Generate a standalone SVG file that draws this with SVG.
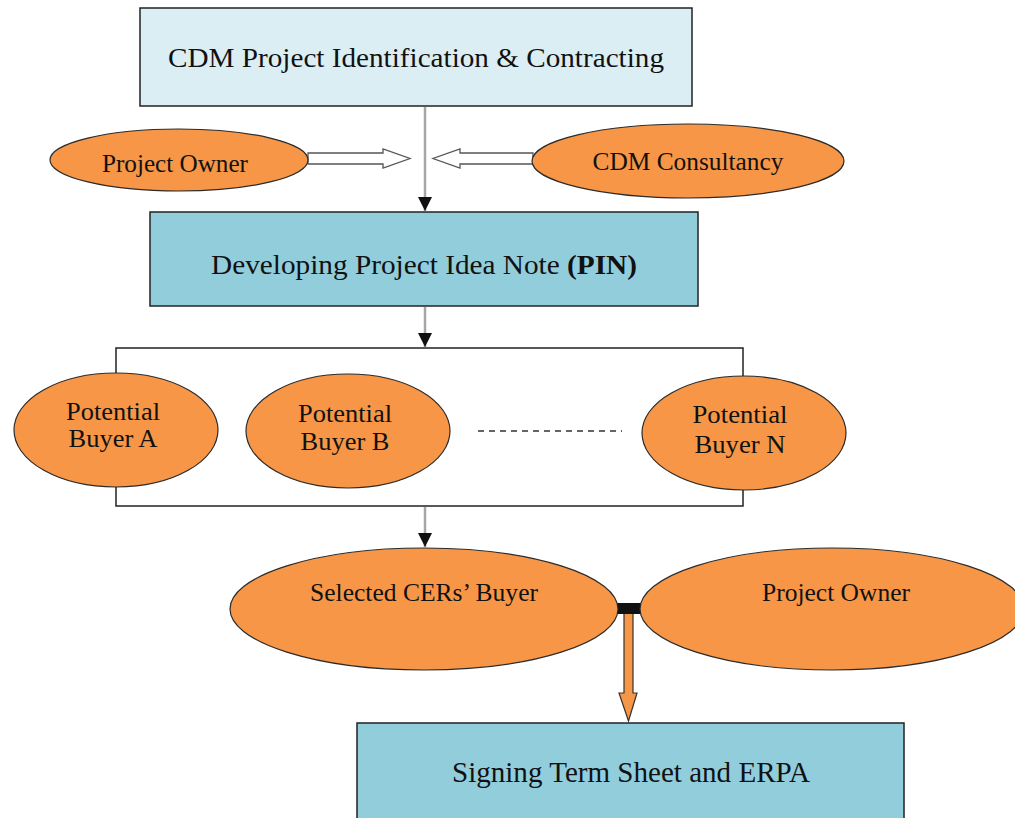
<svg xmlns="http://www.w3.org/2000/svg" width="1015" height="818" viewBox="0 0 1015 818">
<defs>
<style>
.txt{font-family:"Liberation Serif","Times New Roman",serif;fill:#111;text-anchor:middle}
.ell{fill:#f79646;stroke:#2b2b2b;stroke-width:1.2}
.box{stroke:#222;stroke-width:1.5}
.conn{stroke:#a6a6a6;stroke-width:2.5;fill:none}
.hollow{fill:#fff;stroke:#555;stroke-width:1.3}
</style>
<marker id="ah" viewBox="0 0 10 10" refX="10" refY="5" markerWidth="14" markerHeight="14" markerUnits="userSpaceOnUse" orient="auto">
<path d="M0,0 L10,5 L0,10 z" fill="#111"/>
</marker>
</defs>
<rect width="1015" height="818" fill="#fff"/>

<g id="connectors">
<line class="conn" x1="425" y1="107" x2="425" y2="211" marker-end="url(#ah)"/>
<line class="conn" x1="425" y1="307" x2="425" y2="347" marker-end="url(#ah)"/>
<line class="conn" x1="425" y1="507" x2="425" y2="547" marker-end="url(#ah)"/>
<polygon class="hollow" points="308,153 383,153 383,149 410,158.5 383,168 383,164 308,164"/>
<polygon class="hollow" points="533,153 460,153 460,149 433,158.5 460,168 460,164 533,164"/>
<line x1="478" y1="431" x2="622" y2="431" stroke="#333" stroke-width="1.5" stroke-dasharray="6,5"/>
<polygon points="624,613 633,613 633,693 637,693 628.5,721 619,693 624,693" fill="#f79646" stroke="#333" stroke-width="1.2"/>
<rect x="616" y="603" width="29" height="11" fill="#111"/>
</g>

<g id="container">
<rect x="116" y="348" width="627" height="158" fill="none" stroke="#222" stroke-width="1.5"/>
</g>

<g id="top-box">
<rect class="box" x="140" y="8" width="552" height="98" fill="#dbeef4"/>
<text class="txt" x="416" y="67" font-size="28" textLength="496" lengthAdjust="spacingAndGlyphs">CDM Project Identification &amp; Contracting</text>
</g>

<g id="project-owner-1">
<ellipse class="ell" cx="179" cy="160" rx="129" ry="31"/>
<text class="txt" x="175" y="172" font-size="26" textLength="146" lengthAdjust="spacingAndGlyphs">Project Owner</text>
</g>

<g id="cdm-consultancy">
<ellipse class="ell" cx="688" cy="161" rx="156" ry="37"/>
<text class="txt" x="688" y="170" font-size="26" textLength="191" lengthAdjust="spacingAndGlyphs">CDM Consultancy</text>
</g>

<g id="pin-box">
<rect class="box" x="150" y="212" width="548" height="94" fill="#92cddc"/>
<text class="txt" x="424" y="274" font-size="28" textLength="426" lengthAdjust="spacingAndGlyphs">Developing Project Idea Note <tspan font-weight="bold">(PIN)</tspan></text>
</g>

<g id="buyer-a">
<ellipse class="ell" cx="116" cy="430" rx="102" ry="57"/>
<text class="txt" x="113" y="420" font-size="26" textLength="94" lengthAdjust="spacingAndGlyphs">Potential</text>
<text class="txt" x="113" y="447" font-size="26" textLength="89" lengthAdjust="spacingAndGlyphs">Buyer A</text>
</g>

<g id="buyer-b">
<ellipse class="ell" cx="348" cy="431" rx="102" ry="57"/>
<text class="txt" x="345" y="422" font-size="26" textLength="94" lengthAdjust="spacingAndGlyphs">Potential</text>
<text class="txt" x="345" y="450" font-size="26" textLength="89" lengthAdjust="spacingAndGlyphs">Buyer B</text>
</g>

<g id="buyer-n">
<ellipse class="ell" cx="744" cy="433" rx="102" ry="57"/>
<text class="txt" x="740" y="423" font-size="26" textLength="95" lengthAdjust="spacingAndGlyphs">Potential</text>
<text class="txt" x="740" y="453" font-size="26" textLength="91" lengthAdjust="spacingAndGlyphs">Buyer N</text>
</g>

<g id="selected-buyer">
<ellipse class="ell" cx="424" cy="609" rx="194" ry="61"/>
<text class="txt" x="424" y="601" font-size="26" textLength="228" lengthAdjust="spacingAndGlyphs">Selected CERs’ Buyer</text>
</g>

<g id="project-owner-2">
<ellipse class="ell" cx="832" cy="609" rx="192" ry="61"/>
<text class="txt" x="836" y="601" font-size="26" textLength="148" lengthAdjust="spacingAndGlyphs">Project Owner</text>
</g>

<g id="signing-box">
<rect class="box" x="357" y="723" width="547" height="100" fill="#92cddc"/>
<text class="txt" x="631" y="782" font-size="29" textLength="358" lengthAdjust="spacingAndGlyphs">Signing Term Sheet and ERPA</text>
</g>
</svg>
